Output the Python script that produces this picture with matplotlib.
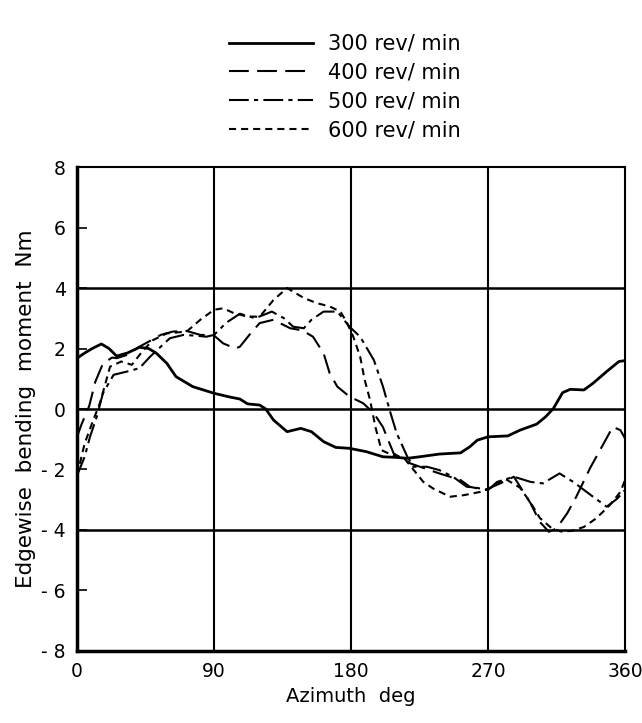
import numpy as np
import matplotlib
matplotlib.use("Agg")
import matplotlib.pyplot as plt

plt.rcParams['font.family'] = ['DejaVu Sans']
plt.rcParams['axes.unicode_minus'] = False

# edgewise bending moment vs azimuth, one series per rotor speed
az_300 = [0, 5, 10, 16, 21, 26, 33, 41, 47, 52, 59, 65, 76, 90, 100, 107, 112, 120, 124, 129,
          138, 147, 154, 162, 170, 179, 190, 201, 210, 217, 225, 238, 252, 258, 263, 270, 283,
          291, 302, 308, 313, 319, 324, 333, 339, 348, 356, 360]
m_300 = [1.68, 1.85, 2.0, 2.15, 2.0, 1.75, 1.85, 2.04, 2.0, 1.85, 1.51, 1.07, 0.74, 0.52, 0.4,
         0.33, 0.17, 0.13, 0.0, -0.36, -0.75, -0.64, -0.75, -1.08, -1.27, -1.30, -1.41, -1.58,
         -1.60, -1.63, -1.58, -1.49, -1.45, -1.25, -1.03, -0.92, -0.89, -0.70, -0.50, -0.25, 0.02,
         0.54, 0.65, 0.63, 0.85, 1.24, 1.57, 1.60]

az_400 = [0, 3, 8, 12, 17, 23, 26, 33, 41, 49, 55, 63, 72, 81, 90, 96, 104, 107, 114, 120, 129,
          140, 148, 155, 162, 166, 171, 179, 188, 195, 201, 208, 219, 238, 252, 258, 268, 278,
          287, 298, 304, 310, 315, 322, 328, 337, 346, 352, 357, 360]
m_400 = [-0.92, -0.5, 0.1, 0.9, 1.5, 1.7, 1.68, 1.79, 2.06, 2.28, 2.45, 2.56, 2.58, 2.45, 2.43,
         2.17, 2.0, 2.06, 2.5, 2.84, 2.95, 2.67, 2.6, 2.39, 1.84, 1.18, 0.74, 0.41, 0.19, -0.14,
         -0.6, -1.47, -1.8, -2.13, -2.35, -2.57, -2.68, -2.46, -2.24, -3.12, -3.73, -4.06, -3.95,
         -3.45, -2.9, -1.96, -1.14, -0.59, -0.7, -0.97]

az_500 = [0, 5, 8.5, 13, 17, 24, 33, 41, 48, 55, 61, 70, 79, 85, 90, 98, 107, 117, 128, 136, 142,
          149, 154, 162, 171, 179, 186, 195, 201, 206, 210, 217, 221, 230, 238, 247, 256, 262,
          270, 276, 287, 298, 306, 317, 326, 339, 348, 355, 360]
m_500 = [-2.2, -1.58, -0.92, -0.25, 0.52, 1.13, 1.24, 1.35, 1.73, 2.06, 2.34, 2.45, 2.42, 2.39,
         2.45, 2.85, 3.15, 3.0, 3.22, 3.0, 2.72, 2.67, 2.95, 3.22, 3.22, 2.72, 2.39, 1.62, 0.74,
         -0.14, -0.8, -1.58, -1.91, -1.91, -2.02, -2.24, -2.57, -2.6, -2.68, -2.41, -2.24, -2.41,
         -2.46, -2.13, -2.41, -2.9, -3.23, -2.96, -2.68]

az_600 = [0, 5, 10.7, 15, 21.7, 29, 36, 43.6, 50, 59, 72, 81, 90, 96, 103, 111.5, 120, 129, 138,
          149, 157.5, 166, 173, 177, 181.5, 186, 189, 192.5, 196, 200, 206, 215, 227.5, 234, 245,
          254, 265, 272, 281, 291, 298, 304, 312, 318, 325, 333, 341, 350, 357, 360]
m_600 = [-2.2, -1.14, -0.36, 0.19, 1.4, 1.57, 1.46, 1.95, 2.28, 2.5, 2.56, 2.95, 3.28, 3.33, 3.17,
         3.06, 3.05, 3.6, 4.0, 3.67, 3.5, 3.39, 3.22, 2.89, 2.39, 1.73, 0.96, 0.3, -0.59, -1.36,
         -1.5, -1.63, -2.41, -2.63, -2.9, -2.85, -2.74, -2.6, -2.3, -2.6, -3.1, -3.6, -3.95, -4.05,
         -4.03, -3.9, -3.62, -3.18, -2.74, -2.35]

labels = ['300 rev/ min', '400 rev/ min', '500 rev/ min', '600 rev/ min']
x_ticks = [0, 90, 180, 270, 360]
y_ticks = [-8, -6, -4, -2, 0, 2, 4, 6, 8]
y_ticklabels = ['- 8', '- 6', '- 4', '- 2', '0', '2', '4', '6', '8']

fig = plt.figure(figsize=(6.42, 7.23), dpi=100)
ax = fig.add_axes([0.12, 0.0996, 0.8535, 0.6694])

lw = 1.5
ax.plot(az_300, m_300, color='black', lw=2.0, ls='-', label=labels[0])
ax.plot(az_400, m_400, color='black', lw=lw, ls=(0, (9.5, 4.0)), label=labels[1])
ax.plot(az_500, m_500, color='black', lw=lw, ls=(0, (9.5, 2.5, 2.0, 2.5)), label=labels[2])
ax.plot(az_600, m_600, color='black', lw=lw, ls=(0, (3.4, 2.4)), label=labels[3])

# reference lines
for yv in [4, 0, -4]:
    ax.axhline(yv, color='black', lw=1.8, zorder=1)
for xv in [90, 180, 270]:
    ax.axvline(xv, color='black', lw=1.5, zorder=1)

ax.set_xlim(0, 360)
ax.set_ylim(-8, 8)
ax.set_xticks(x_ticks)
ax.set_yticks(y_ticks)
ax.set_yticklabels(y_ticklabels)
ax.tick_params(axis='x', length=0, pad=8, labelsize=13.5)
ax.tick_params(axis='y', direction='in', length=7, width=1.2, pad=8, labelsize=13.5)
for s in ax.spines.values():
    s.set_linewidth(1.5)
ax.spines['left'].set_linewidth(2.5)
ax.spines['bottom'].set_linewidth(2.5)

ax.set_xlabel('Azimuth  deg', fontsize=14, labelpad=4)
ax.set_ylabel('Edgewise  bending  moment  Nm', fontsize=15.5, labelpad=4)

fig.legend(loc='upper left', bbox_to_anchor=(0.357, 0.953), frameon=False,
           fontsize=15, handlelength=4.0, handletextpad=0.75, labelspacing=0.42,
           borderpad=0, borderaxespad=0)

fig.savefig('out.png', dpi=100)
